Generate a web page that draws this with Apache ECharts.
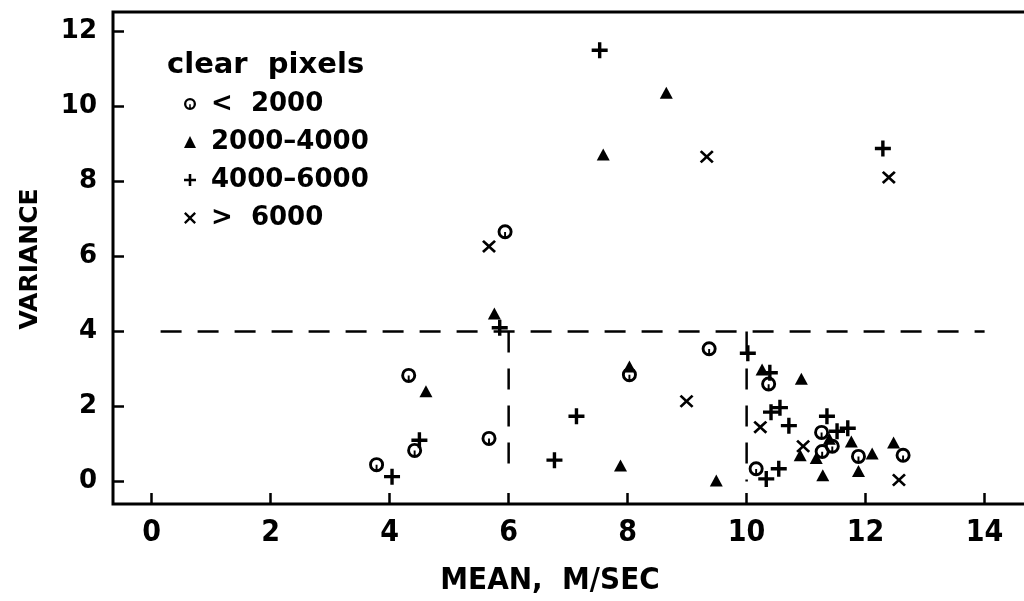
<!DOCTYPE html>
<html>
<head>
<meta charset="utf-8">
<script src="https://cdn.jsdelivr.net/npm/echarts@6/dist/echarts.min.js"></script>
<style>
  html, body { margin: 0; padding: 0; background: #fff; overflow: hidden; }
  /* the plot frame runs past the right edge of the page */
  #chart { width: 1070px; height: 601px; }
</style>
</head>
<body>
<div id="chart"></div>
<script>
// Mean wind speed vs. variance, grouped by number of clear pixels
const seriesNames = ['<  2000', '2000\u20134000', '4000\u20136000', '>  6000'];

const lt2000 = [
  [3.78, 0.45], [4.32, 2.83], [4.42, 0.83], [5.67, 1.15], [5.94, 6.66],
  [8.03, 2.85], [9.37, 3.54], [10.16, 0.34], [10.37, 2.60], [11.26, 1.31],
  [11.44, 0.94], [11.27, 0.80], [11.88, 0.67], [12.63, 0.70]
];
const from2000to4000 = [
  [4.61, 2.41], [5.76, 4.48], [7.59, 8.72], [8.65, 10.37], [8.03, 3.07],
  [7.88, 0.43], [9.49, 0.03], [10.26, 2.99], [10.92, 2.74], [11.39, 1.14],
  [11.76, 1.07], [10.90, 0.70], [11.17, 0.63], [11.28, 0.17], [12.11, 0.75],
  [11.88, 0.28], [12.47, 1.04]
];
const from4000to6000 = [
  [4.04, 0.13], [4.50, 1.10], [5.85, 4.10], [6.77, 0.57], [7.14, 1.74],
  [7.53, 11.50], [10.02, 3.42], [10.39, 2.90], [10.41, 1.85], [10.56, 1.97],
  [10.71, 1.49], [11.35, 1.74], [11.52, 1.34], [11.70, 1.42], [10.33, 0.07],
  [10.54, 0.34], [12.29, 8.88]
];
const gt6000 = [
  [5.67, 6.27], [9.33, 8.66], [12.39, 8.11], [8.99, 2.14], [10.23, 1.45],
  [10.95, 0.94], [12.56, 0.04]
];

// Threshold guides: variance = 4, mean = 6 and mean = 10
const cutoffH = [[0.15, 4], [14, 4]];
const cutoffV6 = [[6, 4], [6, 0.3]];
const cutoffV10 = [[10, 4], [10, 0]];

const xTicks = [0, 2, 4, 6, 8, 10, 12, 14];
const yTicks = [0, 2, 4, 6, 8, 10, 12];

const SYM_CIRCLE = 'path://M0,-7A7,7,0,1,1,0,7A7,7,0,1,1,0,-7ZM0,-4.3A4.3,4.3,0,1,0,0,4.3A4.3,4.3,0,1,0,0,-4.3ZM-0.9,0.2H0.9V4.3H-0.9Z';
const SYM_PLUS = 'path://M-1.7,-8H1.7V-1.7H8V1.7H1.7V8H-1.7V1.7H-8V-1.7H-1.7Z';
const SYM_CROSS = 'path://M-7,-5.1L-5.1,-7L0,-1.9L5.1,-7L7,-5.1L1.9,0L7,5.1L5.1,7L0,1.9L-5.1,7L-7,5.1L-1.9,0Z';

const FONT = '"DejaVu Sans", "Liberation Sans", sans-serif';
const FONT_NARROW = '"Liberation Sans Narrow", "DejaVu Sans Condensed", "DejaVu Sans", sans-serif';

const chart = echarts.init(document.getElementById('chart'), null, { renderer: 'canvas' });

function guide(data) {
  return {
    type: 'line', data: data, symbol: 'none', silent: true, z: 1,
    lineStyle: { color: '#000', width: 2.5, type: [21, 16] },
    legendHoverLink: false
  };
}

const tickStyle = { show: true, inside: true, length: 11, lineStyle: { color: '#000', width: 2.5 } };

chart.setOption({
  animation: false,
  backgroundColor: '#fff',
  grid: {
    left: 113, top: 12, width: 943, height: 492,
    show: true, borderColor: '#000', borderWidth: 3, backgroundColor: 'transparent'
  },
  xAxis: {
    type: 'value', min: -0.65, max: 15.2,
    axisLine: { show: false, onZero: false },
    splitLine: { show: false },
    axisTick: Object.assign({}, tickStyle, { customValues: xTicks }),
    axisLabel: {
      customValues: xTicks, margin: 14, color: '#000',
      fontFamily: FONT_NARROW, fontWeight: 'bold', fontSize: 30
    }
  },
  yAxis: {
    type: 'value', min: -0.6, max: 12.52,
    axisLine: { show: false, onZero: false },
    splitLine: { show: false },
    axisTick: Object.assign({}, tickStyle, { customValues: yTicks }),
    axisLabel: {
      customValues: yTicks, margin: 16, color: '#000',
      fontFamily: FONT, fontWeight: 'bold', fontSize: 26
    }
  },
  title: {
    text: 'clear  pixels', left: 162, top: 46,
    textStyle: { fontFamily: FONT, fontWeight: 'bold', fontSize: 29, color: '#000' }
  },
  legend: {
    data: seriesNames,
    orient: 'vertical', left: 179, top: 86,
    itemWidth: 12, itemHeight: 12, itemGap: 12,
    selectedMode: false,
    textStyle: { fontFamily: FONT, fontWeight: 'bold', fontSize: 26, color: '#000', padding: [0, 0, 0, 10] }
  },
  graphic: [
    {
      type: 'text', x: 550, y: 581,
      style: {
        text: 'MEAN,  M/SEC', fill: '#000', align: 'center', verticalAlign: 'middle',
        font: 'bold 31px ' + FONT_NARROW
      }
    },
    {
      type: 'text', x: 30, y: 259, rotation: Math.PI / 2,
      style: {
        text: 'VARIANCE', fill: '#000', align: 'center', verticalAlign: 'middle',
        font: 'bold 25px ' + FONT
      }
    }
  ],
  series: [
    guide(cutoffH), guide(cutoffV6), guide(cutoffV10),
    {
      name: seriesNames[0], type: 'scatter', data: lt2000,
      symbol: SYM_CIRCLE, symbolSize: 15, z: 3,
      itemStyle: { color: '#000', opacity: 1 }
    },
    {
      name: seriesNames[1], type: 'scatter', data: from2000to4000,
      symbol: 'triangle', symbolSize: [13, 12], z: 3,
      itemStyle: { color: '#000', opacity: 1 }
    },
    {
      name: seriesNames[2], type: 'scatter', data: from4000to6000,
      symbol: SYM_PLUS, symbolSize: 16, z: 3,
      itemStyle: { color: '#000', opacity: 1 }
    },
    {
      name: seriesNames[3], type: 'scatter', data: gt6000,
      symbol: SYM_CROSS, symbolSize: [14, 13], z: 3,
      itemStyle: { color: '#000', opacity: 1 }
    }
  ]
});
</script>
</body>
</html>
